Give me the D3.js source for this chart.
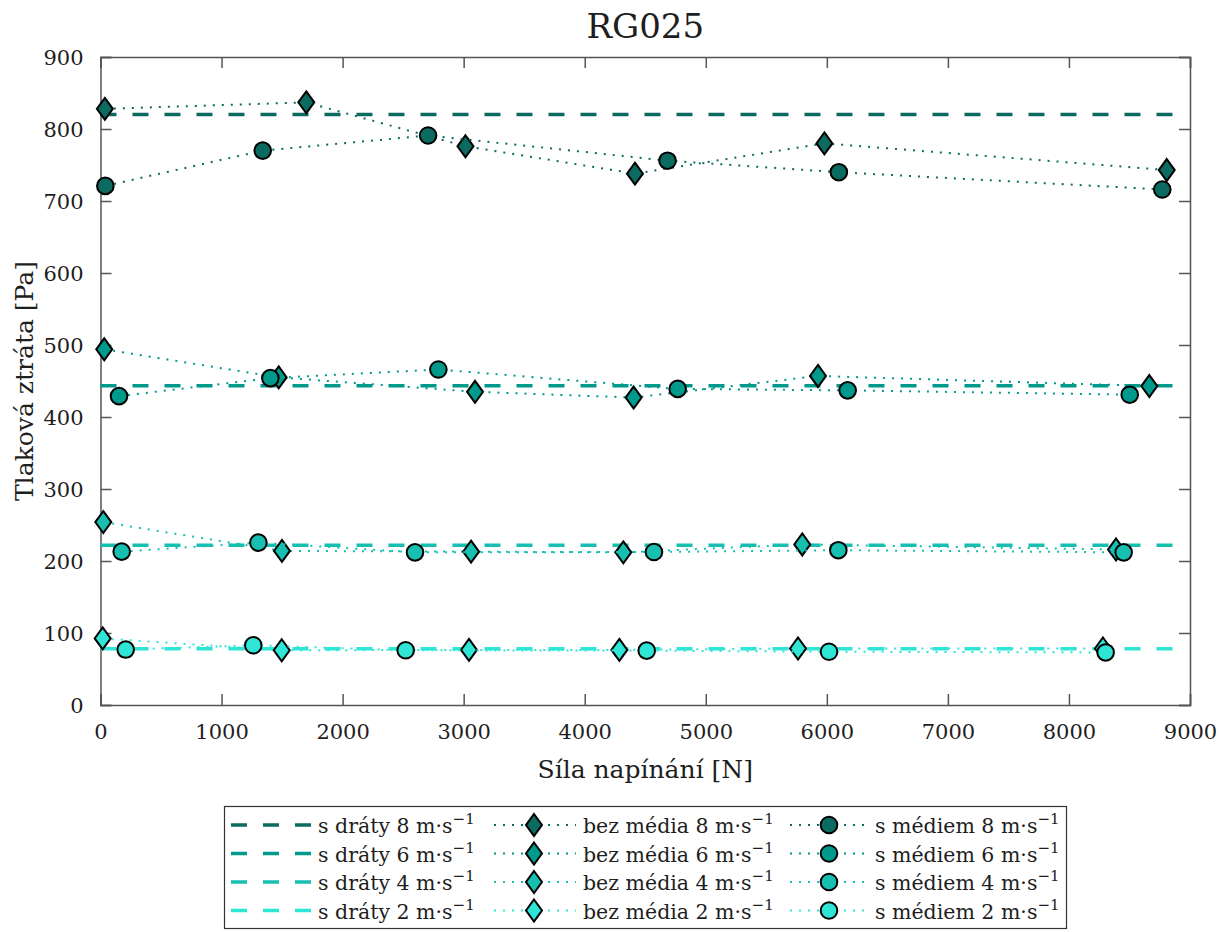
<!DOCTYPE html>
<html>
<head>
<meta charset="utf-8">
<script src="https://cdn.jsdelivr.net/npm/d3@7"></script>
<style>
  html, body { margin: 0; padding: 0; background: #fff; }
  svg { display: block; }
</style>
</head>
<body>
<svg id="chart" width="1222" height="932"></svg>
<script>
// ---------- data ----------
const title = "RG025";
const xLabel = "Síla napínání [N]";
const yLabel = "Tlaková ztráta [Pa]";
const xTicks = [0, 1000, 2000, 3000, 4000, 5000, 6000, 7000, 8000, 9000];
const yTicks = [0, 100, 200, 300, 400, 500, 600, 700, 800, 900];
const speeds = ["8", "6", "4", "2"];
const speedColors = ["#0c6b61", "#009a8c", "#17bfb1", "#2ee5d6"];

// constant "s dráty" levels and their x extent
const dratyY = [820, 443.5, 222, 78];
const dratyX = [0, 8870];

// "bez média" (diamonds)
const bez8X = [36, 1700, 3015, 4415, 5980, 8808];
const bez8Y = [828, 837, 776, 738, 780, 743];
const bez6X = [31, 1472, 3094, 4404, 5927, 8664];
const bez6Y = [494, 455, 435, 427, 457, 443];
const bez4X = [23, 1499, 3061, 4319, 5797, 8389];
const bez4Y = [254, 214, 213, 212, 223, 216];
const bez2X = [18, 1497, 3044, 4286, 5762, 8281];
const bez2Y = [92.5, 76, 76.5, 76.5, 78.5, 78.5];

// "s médiem" (circles)
const med8X = [40, 1340, 2706, 4684, 6099, 8771];
const med8Y = [721, 770, 791, 756, 740, 716];
const med6X = [153, 1403, 2791, 4768, 6172, 8502];
const med6Y = [429, 454, 466, 439, 437, 431];
const med4X = [175, 1304, 2598, 4572, 6095, 8452];
const med4Y = [213, 225.5, 212, 212.5, 215, 212];
const med2X = [208, 1262, 2521, 4512, 6018, 8303];
const med2Y = [77, 83, 76, 75.5, 74, 73];

const bezX = [bez8X, bez6X, bez4X, bez2X];
const bezY = [bez8Y, bez6Y, bez4Y, bez2Y];
const medX = [med8X, med6X, med4X, med2X];
const medY = [med8Y, med6Y, med4Y, med2Y];

// ---------- layout ----------
const FONT = "'DejaVu Serif', 'Liberation Serif', serif";
const svg = d3.select("#chart");
const plot = { left: 100.5, right: 1190, top: 57, bottom: 705 };
const x = d3.scaleLinear().domain([0, 9000]).range([plot.left, plot.right]);
const y = d3.scaleLinear().domain([0, 900]).range([plot.bottom, plot.top]);
const axisColor = "#555";
const tickLen = 11;

function txt(sel) {
  return sel.attr("font-family", FONT).style("font-family", FONT).attr("fill", "#1e1e1e");
}

// title
txt(svg.append("text")).attr("x", (plot.left + plot.right) / 2).attr("y", 38)
  .attr("text-anchor", "middle").style("font-size", "34px").text(title);

// axes (inward ticks, full box)
const gx = svg.append("g").attr("transform", `translate(0,${plot.bottom})`)
  .call(d3.axisBottom(x).tickValues(xTicks).tickSize(-tickLen).tickPadding(tickLen + 8).tickFormat(d3.format("d")));
const gxTop = svg.append("g").attr("transform", `translate(0,${plot.top})`)
  .call(d3.axisTop(x).tickValues(xTicks).tickSize(-tickLen).tickFormat(""));
const gy = svg.append("g").attr("transform", `translate(${plot.left},0)`)
  .call(d3.axisLeft(y).tickValues(yTicks).tickSize(-tickLen).tickPadding(tickLen + 6).tickFormat(d3.format("d")));
const gyR = svg.append("g").attr("transform", `translate(${plot.right},0)`)
  .call(d3.axisRight(y).tickValues(yTicks).tickSize(-tickLen).tickFormat(""));
[gx, gxTop, gy, gyR].forEach(g => {
  g.attr("font-family", FONT);
  g.selectAll(".domain").attr("stroke", axisColor).attr("stroke-width", 1.5);
  g.selectAll(".tick line").attr("stroke", axisColor).attr("stroke-width", 1.5);
  txt(g.selectAll(".tick text")).style("font-size", "21px");
});
gy.selectAll(".tick text").attr("dy", "0.34em");

// axis labels
txt(svg.append("text")).attr("x", (plot.left + plot.right) / 2).attr("y", 778)
  .attr("text-anchor", "middle").style("font-size", "25px").text(xLabel);
txt(svg.append("text")).attr("transform", `translate(33,${(plot.top + plot.bottom) / 2}) rotate(-90)`)
  .attr("text-anchor", "middle").style("font-size", "25px").text(yLabel);

// ---------- marks ----------
const gPlot = svg.append("g");
const line = d3.line().x(d => x(d[0])).y(d => y(d[1]));
const dashStyle = "16,16";
const dotStyle = "2,7";
const diamondPath = (hw, hh) => `M0,${-hh}L${hw},0L0,${hh}L${-hw},0Z`;

// s dráty dashed lines
speeds.forEach((s, i) => {
  gPlot.append("path")
    .attr("d", line(dratyX.map(v => [v, dratyY[i]])))
    .attr("fill", "none").attr("stroke", speedColors[i])
    .attr("stroke-width", 3.5).attr("stroke-dasharray", dashStyle);
});

function drawSeries(xs, ys, color, marker) {
  const pts = xs.map((v, k) => [v, ys[k]]);
  gPlot.append("path").attr("d", line(pts)).attr("fill", "none")
    .attr("stroke", color).attr("stroke-width", 2).attr("stroke-dasharray", dotStyle);
  pts.forEach(p => {
    if (marker === "diamond") {
      gPlot.append("path").attr("d", diamondPath(8, 11))
        .attr("transform", `translate(${x(p[0])},${y(p[1])})`)
        .attr("fill", color).attr("stroke", "#000").attr("stroke-width", 2);
    } else {
      gPlot.append("circle").attr("cx", x(p[0])).attr("cy", y(p[1])).attr("r", 8.3)
        .attr("fill", color).attr("stroke", "#000").attr("stroke-width", 2);
    }
  });
}
speeds.forEach((s, i) => drawSeries(bezX[i], bezY[i], speedColors[i], "diamond"));
speeds.forEach((s, i) => drawSeries(medX[i], medY[i], speedColors[i], "circle"));

// ---------- legend ----------
const leg = svg.append("g");
leg.append("rect").attr("x", 224.5).attr("y", 806.5).attr("width", 842).attr("height", 122)
  .attr("fill", "#fff").attr("stroke", "#333").attr("stroke-width", 1.2);
const rowY = [825, 853.5, 882, 910.5];
function legText(xp, yp, prefix, sp) {
  const t = txt(leg.append("text")).attr("x", xp).attr("y", yp + 8).style("font-size", "20.5px");
  t.append("tspan").text(`${prefix} ${sp} m·s`);
  t.append("tspan").attr("dy", -9).style("font-size", "15px").text("−1");
}
speeds.forEach((s, i) => {
  const ry = rowY[i];
  const c = speedColors[i];
  // col 1
  leg.append("line").attr("x1", 231).attr("x2", 311).attr("y1", ry).attr("y2", ry)
    .attr("stroke", c).attr("stroke-width", 3.5).attr("stroke-dasharray", dashStyle);
  legText(318, ry, "s dráty", s);
  // col 2
  leg.append("line").attr("x1", 494).attr("x2", 576).attr("y1", ry).attr("y2", ry)
    .attr("stroke", c).attr("stroke-width", 2).attr("stroke-dasharray", dotStyle);
  leg.append("path").attr("d", diamondPath(8, 11)).attr("transform", `translate(534,${ry})`)
    .attr("fill", c).attr("stroke", "#000").attr("stroke-width", 2);
  legText(583, ry, "bez média", s);
  // col 3
  leg.append("line").attr("x1", 790).attr("x2", 869).attr("y1", ry).attr("y2", ry)
    .attr("stroke", c).attr("stroke-width", 2).attr("stroke-dasharray", dotStyle);
  leg.append("circle").attr("cx", 829).attr("cy", ry).attr("r", 8.3)
    .attr("fill", c).attr("stroke", "#000").attr("stroke-width", 2);
  legText(875, ry, "s médiem", s);
});
</script>
</body>
</html>
